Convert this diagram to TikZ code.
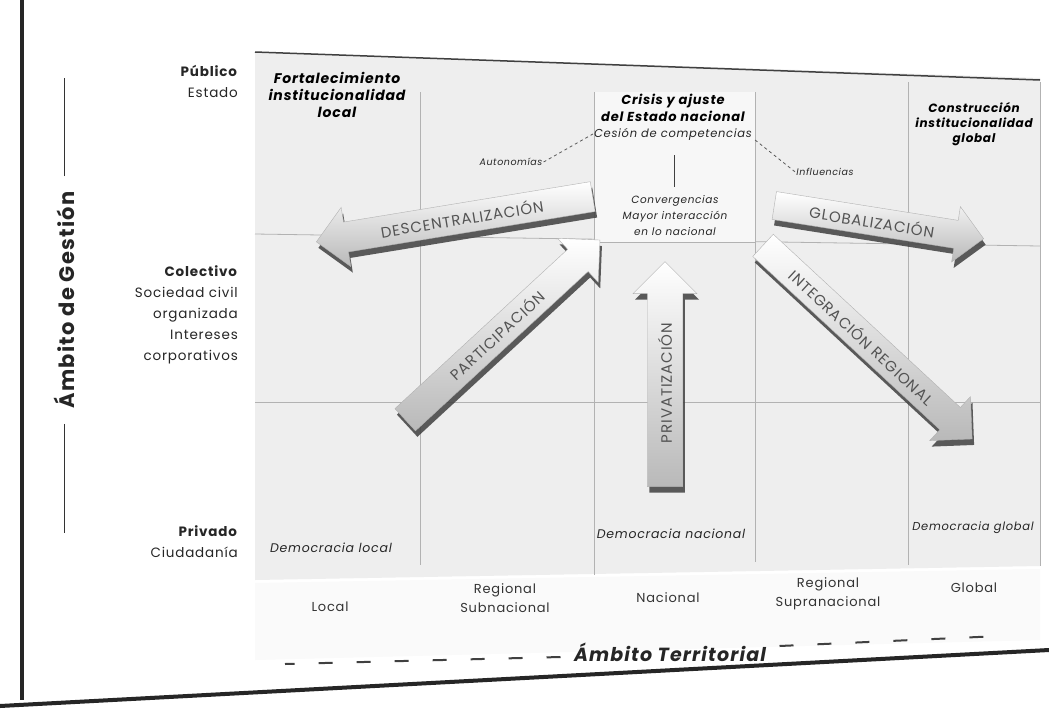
\documentclass[tikz,border=0pt]{standalone}
\usepackage{fontspec}
\setmainfont{Poppins}[LetterSpace=6]
\usetikzlibrary{shapes.arrows,shadows}
\begin{document}
\begin{tikzpicture}[x=1pt,y=-1pt,
  lab/.style={font=\fontsize{13.5}{21}\selectfont, align=right, anchor=east, inner sep=0pt, text=black!85},
  cell/.style={font=\fontsize{12.5}{16}\selectfont\itshape, align=center, inner sep=1pt, text=black!85},
  title/.style={font=\fontsize{13}{16.5}\selectfont\bfseries\itshape, align=center, inner sep=1pt},
  axis/.style={font=\fontsize{13}{19}\selectfont, align=center, inner sep=1pt, text=black!80},
  grid/.style={draw=gray!60, line width=0.8pt},
  big/.style={single arrow, draw=gray!60, line width=0.4pt, top color=white, bottom color=gray!55,
     single arrow head extend=13pt, inner xsep=4pt, inner ysep=6pt,
     font=\fontsize{15}{15}\selectfont, text=gray!65!black,
     drop shadow={shadow xshift=2pt, shadow yshift=-6pt, fill=black!75, opacity=0.85}},
  dashlink/.style={draw=gray!70!black, dashed, line width=0.8pt}
]
\useasboundingbox (0,0) rectangle (1049,718);
\fill[white] (0,0) rectangle (1049,718);
% panel
\fill[gray!13] (255,52) -- (1040,78) -- (1040,566) -- (255,580) -- cycle;
\fill[white!96!gray] (255,583) -- (1040,569) -- (1040,640) -- (255,660) -- cycle;
\draw[line width=1.5pt, gray!50!black] (255,52) -- (1040,80);
% grid
\draw[grid] (420,92) -- (420,565);
\draw[grid] (594,92) -- (594,575);
\draw[grid] (755,92) -- (755,562);
\draw[grid] (908,82) -- (908,565);
\draw[grid] (1040,82) -- (1040,566);
\draw[grid] (255,234) -- (1040,246);
\draw[grid] (255,402) -- (1040,402);
% central box
\fill[white!94!gray] (594,92) rectangle (755,242);
\draw[grid] (594,92) -- (594,242) -- (755,242) -- (755,92);
% frame
\draw[line width=4pt, black!85] (22,0) -- (22,700);
\draw[line width=4pt, black!85] (0,706) -- (1049,650);
% axis titles
\node[font=\fontsize{21}{22}\selectfont\bfseries, rotate=90, text=black!85] (gestion) at (64,300) {Ámbito de Gestión};
\coordinate (gtop) at (64,78);
\coordinate (gbot) at (64,533);
\draw[line width=1pt, black!80] (gestion.east) ++(0,-12) -- (gtop);
\draw[line width=1pt, black!80] (gestion.west) ++(0,12) -- (gbot);
\node[font=\fontsize{19}{20}\selectfont\bfseries\itshape, text=black!85] (territorial) at (670,652) {Ámbito Territorial};
\coordinate (tleft) at (285,664);
\coordinate (tright) at (1000,636);
\draw[dashed, dash pattern=on 14pt off 24pt, line width=2pt, black!75] (territorial.west) ++(-10,5) -- (tleft);
\draw[dashed, dash pattern=on 14pt off 24pt, line width=2pt, black!75] (territorial.east) ++(10,-6) -- (tright);
% row labels
\node[lab] (pub) at (238,81) {\textbf{Público}\\Estado};
\node[lab] (col) at (238,315) {\textbf{Colectivo}\\Sociedad civil\\organizada\\Intereses\\corporativos};
\node[lab] (priv) at (238,542) {\textbf{Privado}\\Ciudadanía};
% column labels
\node[axis] (c1) at (330,607) {Local};
\node[axis] (c2) at (505,598) {Regional\\Subnacional};
\node[axis] (c3) at (668,598) {Nacional};
\node[axis] (c4) at (828,594) {Regional\\Supranacional};
\node[axis] (c5) at (974,588) {Global};
% cell texts
\node[title, font=\fontsize{14}{17}\selectfont\bfseries\itshape] (fort) at (337,95) {Fortalecimiento\\institucionalidad\\local};
\node[title] (crisis) at (673,108) {Crisis y ajuste\\del Estado nacional};
\node[cell, font=\fontsize{11.5}{14}\selectfont\itshape] (cesion) at (673,134) {Cesión de competencias};
\node[cell, font=\fontsize{10.5}{16}\selectfont\itshape] (conv) at (675,216) {Convergencias\\Mayor interacción\\en lo nacional};
\draw[line width=1pt, gray!50!black] (cesion.south) ++(1,14) -- ++(0,32);
\node[title, font=\fontsize{12}{15}\selectfont\bfseries\itshape] (constr) at (974,124) {Construcción\\institucionalidad\\global};
\node[cell, font=\fontsize{9.5}{11}\selectfont\itshape] (auto) at (511,162) {Autonomías};
\node[cell, font=\fontsize{9.5}{11}\selectfont\itshape] (infl) at (825,172) {Influencias};
\draw[dashlink] (auto.east) -- (cesion.west);
\draw[dashlink] (cesion.east) ++(2,6) -- (infl.west);
\node[cell] (dloc) at (331,548) {Democracia local};
\node[cell] (dnac) at (671,534) {Democracia nacional};
\node[cell, font=\fontsize{11.5}{14}\selectfont\itshape] (dglo) at (973,528) {Democracia global};
% big arrows
\node[big, shape border rotate=180, rotate=9.3, minimum height=280pt, minimum width=60pt] (desc) at (462,218) {DESCENTRALIZACIÓN};
\node[big, rotate=-9, minimum height=212pt, minimum width=56pt] (glob) at (872,221) {GLOBALIZACIÓN};
\node[big, rotate=42.7, minimum height=265pt, minimum width=60pt] (part) at (497,335) {PARTICIPACIÓN};
\node[big, rotate=90, minimum height=225pt, minimum width=64pt, inner ysep=9pt] (priva) at (665,383) {PRIVATIZACIÓN};
\node[big, rotate=-42.8, minimum height=285pt, minimum width=60pt] (integ) at (862,337) {INTEGRACIÓN REGIONAL};
\end{tikzpicture}
\end{document}
